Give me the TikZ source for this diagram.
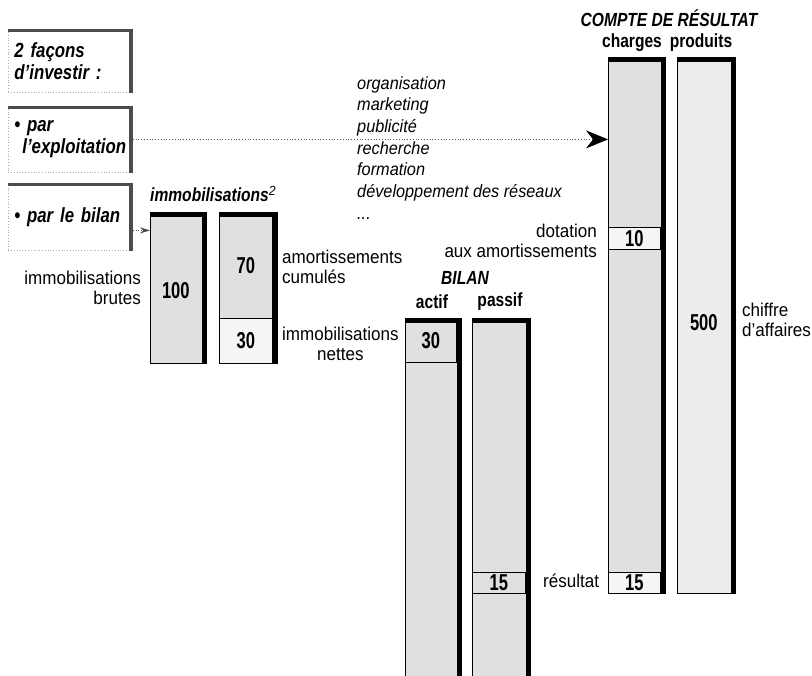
\documentclass[tikz,border=0pt]{standalone}
\usepackage{fontspec}
\setmainfont[FakeStretch=0.92]{Liberation Sans}
\newfontfamily\condfont[FakeStretch=0.82]{Liberation Sans}
\newfontfamily\digitfont[FakeStretch=0.72]{Liberation Sans}
\usetikzlibrary{arrows.meta}

% thick black edge along the top and the right side of a column
\newcommand\heavyrim[1]{%
  \draw[rim] ([yshift=-2.5pt]#1.north west) -- ([xshift=-2.5pt,yshift=-2.5pt]#1.north east)
    -- ([xshift=-2.5pt]#1.south east);}
% grey shadow edge along the top and the right side of a text box
\newcommand\boxshadow[1]{%
  \draw[boxrim] ([yshift=-1.75pt]#1.north west) -- ([xshift=-1.75pt,yshift=-1.75pt]#1.north east)
    -- ([xshift=-1.75pt]#1.south east);}

\tikzset{
  x=1pt, y=-1pt,
  label text/.style={inner sep=0pt, align=left, font=\fontsize{18.5}{19.5}\selectfont},
  item text/.style={inner sep=0pt, align=left, font=\fontsize{17.7}{21.7}\selectfont\itshape},
  title text/.style={inner sep=0pt, font=\condfont\bfseries\itshape\fontsize{19}{20}\selectfont},
  head text/.style={inner sep=0pt, font=\condfont\bfseries\fontsize{19}{20}\selectfont},
  leftbox/.style={draw=gray!65, dotted, line width=0.8pt, fill=white, anchor=north west,
    text width=112pt, inner xsep=6pt, inner ysep=0pt, align=left,
    font=\condfont\bfseries\itshape\fontsize{20.5}{22}\selectfont},
  boxrim/.style={draw=gray!60!black, line width=3.5pt},
  column/.style={draw, line width=0.7pt, fill=gray!24, inner sep=0pt, anchor=north west},
  cell/.style={draw, line width=0.7pt, inner sep=0pt, anchor=north west,
    font=\digitfont\bfseries\fontsize{23}{23}\selectfont},
  number/.style={inner sep=0pt, font=\digitfont\bfseries\fontsize{23}{23}\selectfont},
  rim/.style={draw=black, line width=5pt},
  shade/.style={fill=gray!24},
  light/.style={fill=gray!8},
  link/.style={draw=gray!70!black, dotted, line width=0.8pt},
}

\begin{document}
\begin{tikzpicture}
\useasboundingbox (0,0) rectangle (812,676);

% --- the two ways to invest
\node[leftbox, minimum height=63pt] (b1) at (8,29) {2 façons\\d’investir :};
\node[leftbox, minimum height=66pt] (b2) at (8,106) {\textbullet\ par\\\hspace*{8pt}l’exploitation};
\node[leftbox, minimum height=67pt] (b3) at (8,183) {\textbullet\ par le bilan};
\boxshadow{b1}
\boxshadow{b2}
\boxshadow{b3}

% --- fixed assets
\node[title text, anchor=west] (immotitle) at (150,194) {immobilisations\textsuperscript{\normalfont\itshape 2}};
\node[column, minimum width=56pt, minimum height=151pt] (immo) at (150,212) {};
\node[number] (v100) at ([xshift=-2.5pt,yshift=-2.5pt]immo.center) {100};
\node[column, minimum width=58pt, minimum height=151pt] (amort) at (219,212) {};
\node[cell, shade, minimum width=53pt, minimum height=106pt] (v70) at (219,212) {70};
\node[cell, light, minimum width=53pt, minimum height=45pt] (v30) at (219,318) {30};
\heavyrim{immo}
\heavyrim{amort}

\node[label text, anchor=east, align=right] (brutes) at (141,288) {immobilisations\\brutes};
\node[label text, anchor=west] (cumules) at (282,267) {amortissements\\cumulés};
\node[label text, anchor=west, align=center] (nettes) at (282,344) {immobilisations\\nettes};

% --- intangible spending
\node[item text, anchor=north west] (items) at (357,76)
  {organisation\\marketing\\publicité\\recherche\\formation\\développement des réseaux\\...};

% --- balance sheet
\node[title text] (bilan) at (465,278) {BILAN};
\node[head text] (actifh) at (432,302) {actif};
\node[head text] (passifh) at (500,302) {passif};
\node[column, minimum width=56pt, minimum height=380pt] (actif) at (405,318) {};
\node[cell, shade, minimum width=51pt, minimum height=44pt] (a30) at (405,318) {30};
\node[column, minimum width=58pt, minimum height=380pt] (passif) at (472,318) {};
\node[cell, shade, minimum width=53pt, minimum height=21pt] (p15) at (472,572) {15};
\heavyrim{actif}
\heavyrim{passif}

% --- income statement
\node[title text] (cr) at (669,18) {COMPTE DE RÉSULTAT};
\node[head text] (chargesh) at (632,43) {charges};
\node[head text] (produitsh) at (701,43) {produits};
\node[column, minimum width=57pt, minimum height=536pt] (charges) at (608,57) {};
\node[cell, light, minimum width=52pt, minimum height=22pt] (c10) at (608,227) {10};
\node[cell, light, minimum width=52pt, minimum height=21pt] (c15) at (608,572) {15};
\node[column, fill=gray!15, minimum width=58pt, minimum height=536pt] (produits) at (677,57) {};
\node[number] (v500) at ([xshift=-2.5pt,yshift=3pt]produits.center) {500};
\heavyrim{charges}
\heavyrim{produits}

\node[label text, anchor=east, align=right] (dotation) at (597,241) {dotation\\aux amortissements};
\node[label text, anchor=west] (ca) at (742,320) {chiffre\\d’affaires};
\node[label text, anchor=west] (resultat) at (543,581) {résultat};

% --- links
\draw[link, -{Stealth[length=22pt, width=18pt, black]}] (b2.east) -- (b2.east -| charges.west);
\draw[link, -{Stealth[length=10pt, width=6pt, gray!60!black]}]
  ([yshift=-13.5pt]b3.east) -- ([yshift=-13.5pt]b3.east -| immo.west);
\end{tikzpicture}
\end{document}
